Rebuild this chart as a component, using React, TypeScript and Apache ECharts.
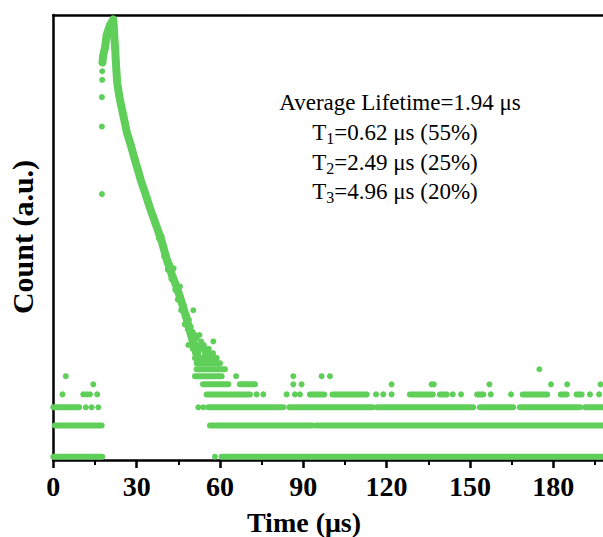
import React, { useEffect, useRef } from 'react';
import * as echarts from 'echarts';

const GREEN = '#5fcf5a';
const FONT = '"Liberation Serif", "Times New Roman", serif';

// x tick labels come from the axis (0, 30, ... 180); time in µs
const xMin = 0;
const xMax = 210;
const xInterval = 30;
const lastLabel = 180;

// Rising edge + smooth decay band, [time µs, counts]
const riseAndDecay: [number, number][] = [
  [17.7, 6450], [18.0, 7700], [18.6, 8830], [19.2, 11870], [20.4, 14820], [21.6, 16800],
  [21.8, 14000], [22.0, 11000], [22.3, 8500], [22.6, 6000], [23.0, 4100], [24.0, 2800],
  [25.3, 1930], [26.5, 1350], [27.7, 1070], [29.0, 800], [30.1, 634], [31.5, 470],
  [33.1, 351], [34.8, 253], [37.0, 173], [39.1, 119], [40.9, 79], [42.7, 57],
  [44.5, 43], [46.3, 30.5], [48.1, 21], [49.9, 14], [51.7, 10.2],
];

// isolated points on the rising edge
const risePoints: [number, number][] = [
  [17.5, 345], [17.5, 1550], [17.5, 2980], [17.6, 4370], [17.6, 5300],
];

// scattered points around the noisy tail of the decay
const tailPoints: [number, number][] = [
  [35.6, 225], [36.5, 190], [37.4, 165], [38.2, 150], [38.0, 128], [39.0, 135], [39.6, 110], [40.3, 96], [39.9, 86],
  [40.8, 88], [41.5, 78], [42.1, 72], [41.2, 64], [42.7, 62], [43.3, 66], [42.5, 52], [43.7, 51], [44.3, 47],
  [43.9, 41], [45.0, 39], [45.6, 44], [45.9, 35], [44.8, 33], [46.2, 32], [47.0, 29], [46.0, 26], [47.5, 25],
  [48.2, 23], [48.8, 21], [47.3, 19], [49.5, 18], [48.4, 17], [50.2, 16], [49.2, 15], [51.0, 15], [51.6, 14],
  [49.8, 13], [50.4, 26], [52.6, 15], [53.2, 13], [57.6, 13],
  [48.6, 12], [50.5, 12], [51.8, 12], [53.0, 12], [54.2, 12], [55.0, 11], [50.2, 11], [52.4, 11], [53.6, 11],
  [56.0, 11], [51.0, 10], [52.2, 10], [54.6, 10], [56.2, 10], [57.5, 10],
];

// background: continuous runs of points at one count level, [tStart, tEnd, count]
const levelRuns: [number, number, number][] = [
  [0, 17.6, 1], [60.6, 205, 1],
  [0.6, 17.4, 2], [56.4, 93.2, 2], [94.6, 205, 2],
  [0, 9.3, 3], [55.8, 82.8, 3], [85, 115, 3], [116.6, 151.2, 3], [153.6, 165.6, 3], [168, 189.6, 3], [191.4, 205, 3],
  [55.2, 70.8, 4], [92.4, 97.5, 4], [100.5, 112.8, 4], [128.4, 136.6, 4], [139.2, 141.6, 4], [152.6, 154.8, 4],
  [169, 177.8, 4], [182.7, 184.8, 4], [188.4, 190.2, 4],
  [53.9, 63, 5], [67.2, 72.6, 5],
  [51, 60.6, 6],
  [51.6, 61.8, 7],
  [51.6, 60, 8],
  [51, 58.8, 9],
];

// isolated background points
const backgroundPoints: [number, number][] = [
  [58.2, 1],
  [11.7, 3], [13.8, 3], [16.2, 3], [52.2, 3], [54, 3],
  [3.3, 4], [10.8, 4], [12.0, 4], [13.2, 4], [15.8, 4], [73.2, 4], [75.6, 4], [84, 4], [87, 4], [88.8, 4],
  [116.2, 4], [118.8, 4], [121.8, 4], [143.8, 4], [146.8, 4], [157.5, 4], [164.8, 4], [193.2, 4], [196.5, 4],
  [14.4, 5], [86.4, 5], [89.4, 5], [121.8, 5], [136.2, 5], [137, 5], [157, 5], [179.2, 5], [185, 5], [197, 5],
  [4.5, 6], [65.8, 6], [86.4, 6], [96.6, 6], [99.6, 6],
  [175, 7],
];

const annotation = [
  { text: 'Average Lifetime=1.94 μs' },
  { text: '{n|T}{s|1}{n|=0.62 μs (55%)}' },
  { text: '{n|T}{s|2}{n|=2.49 μs (25%)}' },
  { text: '{n|T}{s|3}{n|=4.96 μs (20%)}' },
];

export default function App() {
  const ref = useRef<HTMLDivElement>(null);
  useEffect(() => {
    const chart = echarts.init(ref.current!, null, { renderer: 'svg' });
    const rich = {
      n: { fontSize: 23, fontFamily: FONT, fill: '#000', color: '#000', lineHeight: 28 },
      s: { fontSize: 16, fontFamily: FONT, fill: '#000', color: '#000', lineHeight: 14, verticalAlign: 'bottom' },
    };
    const annoPos = [
      [400, 102],
      [395, 132],
      [395, 162],
      [395, 191.5],
    ];
    const option: any = {
      animation: false,
      backgroundColor: '#fff',
      grid: { left: 53.3, right: 13.4, top: 15, bottom: 77 },
      xAxis: [
        {
          type: 'value', min: xMin, max: xMax, interval: xInterval,
          axisLine: { show: true, lineStyle: { color: '#000', width: 2.5 } },
          axisTick: { show: true, inside: false, length: 8, lineStyle: { color: '#000', width: 2.5 } },
          minorTick: { show: true, splitNumber: 2, length: 5, lineStyle: { color: '#000', width: 2 } },
          splitLine: { show: false },
          axisLabel: {
            fontSize: 28, fontWeight: 'bold', fontFamily: FONT, color: '#000', margin: 12,
            formatter: (v: number) => (v > lastLabel ? '' : String(v)),
          },
        },
        {
          type: 'value', min: xMin, max: xMax, position: 'top',
          axisLine: { show: true, lineStyle: { color: '#000', width: 2.5 } },
          axisTick: { show: false }, axisLabel: { show: false }, splitLine: { show: false },
        },
      ],
      yAxis: {
        type: 'log', logBase: 10, min: 0.929, max: 18536,
        axisLine: { show: true, lineStyle: { color: '#000', width: 2.5 } },
        axisTick: { show: false }, axisLabel: { show: false }, splitLine: { show: false },
      },
      series: [
        {
          type: 'custom', coordinateSystem: 'cartesian2d', data: levelRuns,
          encode: { x: [0, 1], y: 2 }, silent: true,
          renderItem: (params: any, api: any) => {
            const a = api.coord([api.value(0), api.value(2)]);
            const b = api.coord([api.value(1), api.value(2)]);
            return {
              type: 'line',
              shape: { x1: a[0], y1: a[1], x2: b[0], y2: b[1] },
              style: { stroke: GREEN, lineWidth: 6, lineCap: 'round' },
            };
          },
        },
        {
          type: 'line', data: riseAndDecay, showSymbol: false, symbol: 'none',
          lineStyle: { color: GREEN, width: 8, cap: 'round', join: 'round' }, silent: true,
        },
        {
          type: 'scatter', data: [...risePoints, ...riseAndDecay, ...tailPoints, ...backgroundPoints],
          symbolSize: 6, itemStyle: { color: GREEN, opacity: 1 }, silent: true,
        },
      ],
      graphic: [
        ...annotation.map((a, i) => ({
          type: 'text', x: annoPos[i][0], y: annoPos[i][1],
          style: i === 0
            ? { text: a.text, fontSize: 23, fontFamily: FONT, fill: '#000', align: 'center', verticalAlign: 'middle' }
            : { text: a.text, rich, align: 'center', verticalAlign: 'middle', fill: '#000' },
        })),
        {
          type: 'text', x: 304, y: 522,
          style: { text: 'Time (μs)', fontSize: 28, fontWeight: 'bold', fontFamily: FONT, fill: '#000', align: 'center', verticalAlign: 'middle' },
        },
        {
          type: 'text', x: 22, y: 237, rotation: Math.PI / 2,
          style: { text: 'Count (a.u.)', fontSize: 30, fontWeight: 'bold', fontFamily: FONT, fill: '#000', align: 'center', verticalAlign: 'middle' },
        },
      ],
    };
    chart.setOption(option);
    return () => chart.dispose();
  }, []);
  return (
    <div style={{ position: 'fixed', left: 0, top: 0, width: 603, height: 537, overflow: 'hidden', background: '#fff' }}>
      <div ref={ref} style={{ width: 650, height: 537 }} />
    </div>
  );
}
